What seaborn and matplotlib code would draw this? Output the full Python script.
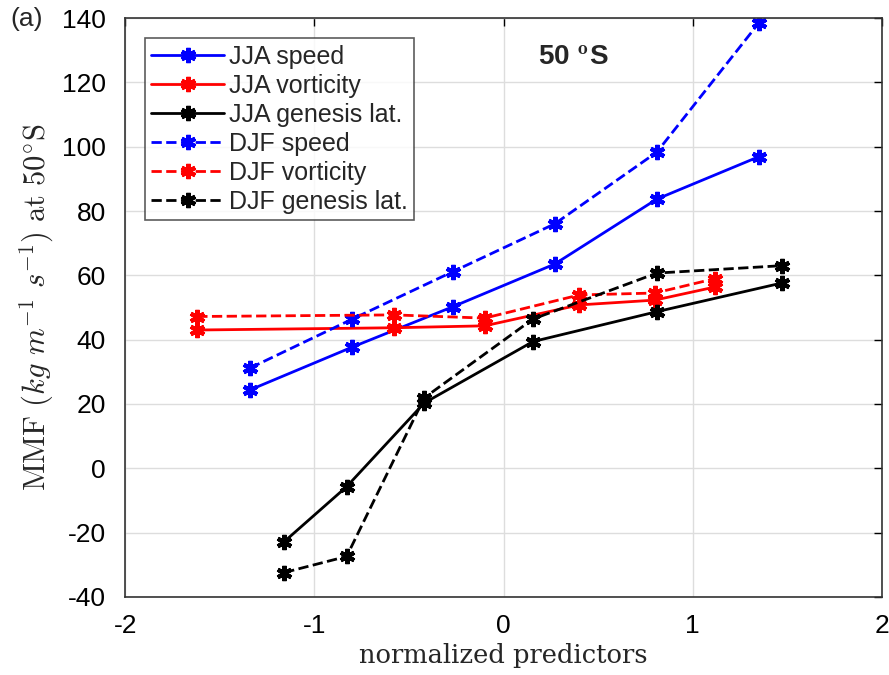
import seaborn as sns
import matplotlib.pyplot as plt
import numpy as np
import pandas as pd

# valores
x_speed = [-1.34, -0.80, -0.27, 0.27, 0.81, 1.35]
jja_speed = [24.4, 37.7, 50.2, 63.5, 83.7, 96.9]
djf_speed = [31.2, 46.4, 61.1, 76.0, 98.3, 138.5]

x_vort = [-1.62, -0.58, -0.10, 0.40, 0.80, 1.12]
jja_vort = [43.0, 43.7, 44.3, 50.8, 52.3, 56.4]
djf_vort = [47.2, 47.7, 46.7, 53.9, 54.5, 59.0]

x_gen = [-1.16, -0.83, -0.42, 0.155, 0.81, 1.47]
jja_gen = [-22.8, -5.7, 20.3, 39.4, 48.7, 57.6]
djf_gen = [-32.4, -27.4, 21.9, 46.4, 60.7, 63.0]

series = [
    ("JJA speed", x_speed, jja_speed, "blue", "-"),
    ("JJA vorticity", x_vort, jja_vort, "red", "-"),
    ("JJA genesis lat.", x_gen, jja_gen, "black", "-"),
    ("DJF speed", x_speed, djf_speed, "blue", "--"),
    ("DJF vorticity", x_vort, djf_vort, "red", "--"),
    ("DJF genesis lat.", x_gen, djf_gen, "black", "--"),
]

sns.set_theme(style="white")
plt.rcParams["font.family"] = ["Liberation Sans", "DejaVu Sans"]
plt.rcParams["mathtext.fontset"] = "cm"

fig = plt.figure(figsize=(8.89, 6.75), dpi=100)
ax = fig.add_axes([0.141, 0.1156, 0.851, 0.8577])

for name, xs, ys, col, ls in series:
    df = pd.DataFrame({"x": xs, "y": ys})
    sns.lineplot(data=df, x="x", y="y", ax=ax, color=col, linestyle=ls,
                 linewidth=2, marker=(6, 2, 0), markersize=11,
                 markeredgewidth=3, markeredgecolor=col, label=name)

ax.set_xlim(-2, 2)
ax.set_ylim(-40, 140)
ax.set_xticks(np.arange(-2, 3, 1))
ax.set_yticks(np.arange(-40, 141, 20))
ax.set_xticklabels([str(v) for v in range(-2, 3)])
ax.set_yticklabels([str(v) for v in range(-40, 141, 20)])
ax.tick_params(direction="in", length=6, width=1, top=True, right=True,
               labelsize=19, colors="black")
ax.tick_params(axis="x", pad=12)
ax.tick_params(axis="y", pad=14)
ax.grid(True, color="#dddddd", linewidth=1)
for s in ax.spines.values():
    s.set_color("#333333")
    s.set_linewidth(1.2)

ax.set_xlabel("normalized predictors", family="DejaVu Serif", fontsize=18.5,
              labelpad=4)
ax.set_ylabel(r"$\mathrm{MMF}\ (kg\ m^{-1}\ s^{-1})\ \mathrm{at}\ 50^{\circ}\mathrm{S}$",
              fontsize=22, labelpad=4)

ax.text(0.37, 127.6, r"50 $^{\mathbf{o}}$S", fontsize=20, fontweight="bold",
        ha="center", va="center")
fig.text(0.012, 0.972, "(a)", fontsize=19, ha="left", va="center")

leg = ax.legend(loc="upper left", bbox_to_anchor=(0.026, 0.965), fontsize=18,
                frameon=True, fancybox=False, edgecolor="#333333",
                handlelength=2.9, handletextpad=0.2, borderpad=0.25,
                labelspacing=0.2, borderaxespad=0)
leg.get_frame().set_linewidth(1.2)

fig.savefig("out.png", dpi=100)
